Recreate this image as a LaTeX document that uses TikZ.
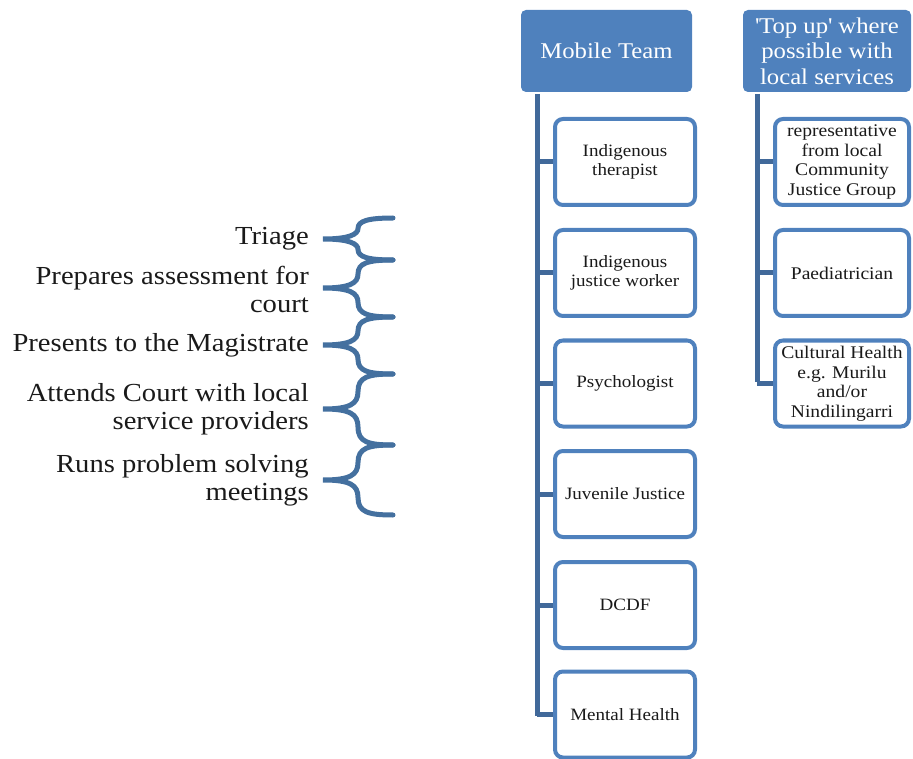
\documentclass[tikz,border=0pt]{standalone}
\usepackage{fontspec}
\setmainfont[FakeStretch=1.1]{Liberation Serif}
\definecolor{hdr}{HTML}{4F81BD}
\definecolor{conn}{HTML}{41699A}
\definecolor{brc}{HTML}{44709F}
\definecolor{txt}{HTML}{1A1A1A}
\tikzset{
  header/.style={fill=hdr, draw=none, rounded corners=5pt, text=white, align=center,
    font=\fontsize{22.5}{25.5}\selectfont, inner sep=0pt},
  member/.style={fill=white, draw=hdr, line width=4pt, rounded corners=8pt, text=txt, align=center,
    inner sep=0pt, minimum height=86pt},
  mobmember/.style={member, minimum width=140pt, font=\fontsize{17.3}{19.5}\selectfont},
  localmember/.style={member, minimum width=134pt, font=\fontsize{17.8}{19.5}\selectfont},
  trunk/.style={draw=conn, line width=5pt},
  bracestyle/.style={draw=brc, line width=5pt, line cap=round},
  role/.style={anchor=east, align=right, text=txt, font=\fontsize{26}{28}\selectfont, inner sep=0pt}
}
\begin{document}
\begin{tikzpicture}[x=1pt, y=-1pt]
\useasboundingbox (0,0) rectangle (913,759);
% headers
\node[header, minimum width=171pt, minimum height=82pt] (mob) at (606.5,51) {Mobile Team};
\node[header, minimum width=168pt, minimum height=82pt] (top) at (827,51) {\textquotesingle Top up\textquotesingle{} where\\possible with\\local services};
% trunk coordinates
\coordinate (mobtop) at (537,94);
\coordinate (mobbot) at (537,716);
\coordinate (toptop) at (757,94);
\coordinate (topbot) at (757,382);
\draw[trunk] (mobtop) -- (mobbot);
\draw[trunk] (toptop) -- (topbot);
% mobile team members
\node[mobmember] (m1) at (625,162) {Indigenous\\therapist};
\node[mobmember] (m2) at (625,273) {Indigenous\\justice worker};
\node[mobmember] (m3) at (625,383.5) {Psychologist};
\node[mobmember] (m4) at (625,494) {Juvenile Justice};
\node[mobmember] (m5) at (625,605) {DCDF};
\node[mobmember] (m6) at (625,714.5) {Mental Health};
\foreach \n in {m1,m2,m3,m4,m5,m6}{
  \draw[trunk] (537,0 |- \n.west) -- (\n.west);
}
% local services
\node[localmember] (l1) at (842,162) {representative\\from local\\Community\\Justice Group};
\node[localmember] (l2) at (842,273) {Paediatrician};
\node[localmember] (l3) at (842,383.5) {Cultural Health\\e.g. Murilu\\and/or\\Nindilingarri};
\foreach \n in {l1,l2,l3}{
  \draw[trunk] (757,0 |- \n.west) -- (\n.west);
}
% roles
\node[role] (r1) at (309,239) {Triage};
\node[role] (r2) at (309,289) {Prepares assessment for\\court};
\node[role] (r3) at (309,345) {Presents to the Magistrate};
\node[role] (r4) at (309,409) {Attends Court with local\\service providers};
\node[role] (r5) at (309,480) {Runs problem solving\\meetings};
% braces
\foreach \t/\m/\b in {218/239/260, 260/288/317, 317/345/374, 374/409/445, 445/480/515}{
  \pgfmathsetmacro{\ua}{(\t+\m)/2}
  \pgfmathsetmacro{\la}{(\m+\b)/2}
  \draw[bracestyle] (393,\t) .. controls (368,\t) and (358,\t+3) .. (358,\ua)
     .. controls (358,\m-5) and (350,\m) .. (323,\m)
     .. controls (350,\m) and (358,\m+5) .. (358,\la)
     .. controls (358,\b-3) and (368,\b) .. (393,\b);
}
\end{tikzpicture}
\end{document}
